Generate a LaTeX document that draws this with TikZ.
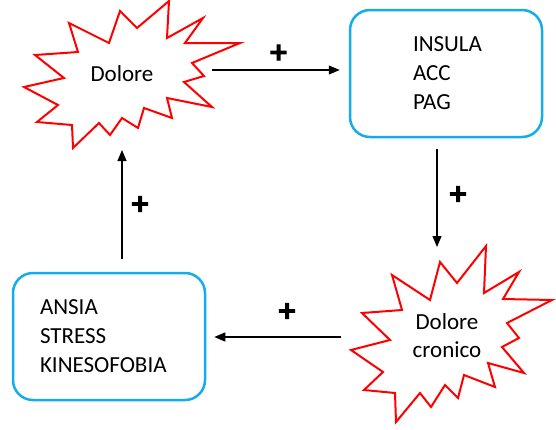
\documentclass[tikz,border=0pt]{standalone}
\usepackage{fontspec}
\setmainfont{Carlito}
\newfontfamily\plusfont[FakeBold=5]{DejaVu Sans}
\usetikzlibrary{arrows.meta}

\definecolor{boxblue}{RGB}{20,172,235}

\tikzset{
    burst/.style={draw=red, line width=2pt, line join=miter, fill=white},
    panel/.style={draw=boxblue, line width=2.5pt, rounded corners=20pt,
        minimum width=192pt, minimum height=127pt, align=left,
        font=\fontsize{23}{29}\selectfont},
    label/.style={align=center, font=\fontsize{23}{28}\selectfont},
    conn/.style={line width=1.2pt, -{Triangle[length=11pt,width=9pt]}},
    sign/.style={font=\plusfont\bfseries\fontsize{24}{24}\selectfont, inner sep=0pt},
}

\begin{document}
\begin{tikzpicture}[x=1pt, y=-1pt]
        \useasboundingbox (0, 0) rectangle (556, 429);

        % explosions
        \draw[burst] plot coordinates {(169, 1) (137, 28) (120, 11) (109, 43)
            (69, 23) (78, 52) (35, 55) (64, 78) (24, 87) (58, 105) (37, 122)
            (72, 125) (73, 148) (99, 123) (110, 135) (122, 118) (138, 128)
            (144, 108) (172, 118) (167, 98) (212, 107) (184, 82) (204, 76)
            (192, 63) (240, 43) (185, 43) (203, 18) (167, 38)} -- cycle;
        \draw[burst] plot coordinates {(486, 246) (457, 283) (440, 262) (430, 300)
            (392, 275) (402, 310) (362, 313) (390, 340) (351, 350) (383, 372)
            (364, 390) (395, 393) (396, 422) (420, 393) (431, 407) (445, 385)
            (458, 398) (464, 375) (495, 387) (488, 363) (524, 373) (502, 347)
            (519, 338) (507, 323) (552, 300) (503, 299) (519, 272) (484, 293)} -- cycle;

        \node[label] (dolore) at (122, 74) {Dolore};
        \node[label] (cronico) at (447, 336) {Dolore\\cronico};

        % boxes
        \node[panel, text width=66pt] (insula) at (446, 73.5) {INSULA\\ACC\\PAG};
        \node[panel, text width=138pt] (ansia) at (109, 336.5) {ANSIA\\STRESS\\KINESOFOBIA};

        % loose ends of the arrows
        \coordinate (dolore-out) at (212, 70);
        \coordinate (cronico-in) at (437, 247);
        \coordinate (cronico-out) at (341, 337);
        \coordinate (dolore-in) at (122, 150);

        \draw[conn, shorten >=9pt] (dolore-out) -- (dolore-out -| insula.west);
        \draw[conn, shorten <=11pt] (insula.south -| cronico-in) -- (cronico-in);
        \draw[conn, shorten >=8pt] (cronico-out) -- (cronico-out -| ansia.east);
        \draw[conn, shorten <=13pt] (ansia.north -| dolore-in) -- (dolore-in);

        \node[sign] (plus-a) at (278.5, 52.5) {+};
        \node[sign] (plus-b) at (458, 194) {+};
        \node[sign] (plus-c) at (287, 311) {+};
        \node[sign] (plus-d) at (140, 204) {+};
\end{tikzpicture}
\end{document}
